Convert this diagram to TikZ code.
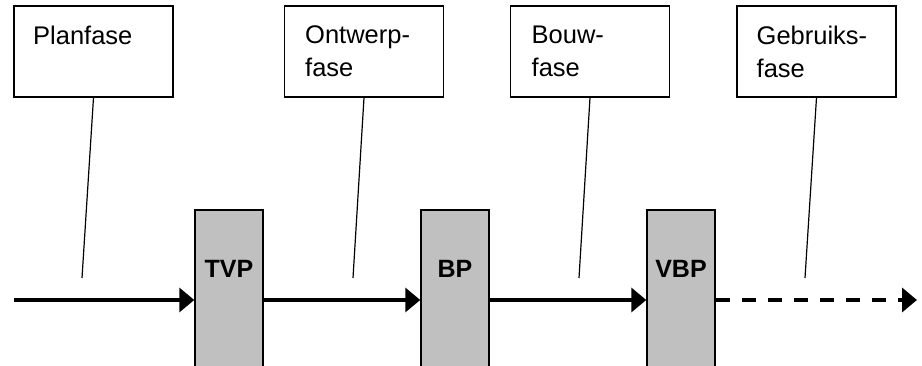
\documentclass[tikz,border=0pt]{standalone}
\usepackage{fontspec}
\setmainfont{Liberation Sans}
\usetikzlibrary{arrows.meta}
\definecolor{gatefill}{HTML}{C0C0C0}
\begin{document}
\begin{tikzpicture}[x=1pt,y=-1pt,
  phase/.style={draw,line width=1.4pt,minimum width=159pt,minimum height=91pt,inner sep=0pt},
  phasetext/.style={anchor=north west,inner sep=0pt,align=left,font=\fontsize{25.5}{33}\selectfont},
  gate/.style={draw,line width=1.4pt,fill=gatefill,minimum width=68pt,minimum height=180pt,inner sep=0pt},
  gatetext/.style={anchor=base,inner sep=0pt,font=\fontsize{25}{30}\selectfont\bfseries},
  leader/.style={line width=1.2pt},
  flow/.style={line width=3.5pt,-{Triangle[length=15pt,width=24pt]}},
]
\useasboundingbox (0,0) rectangle (922,366);
\clip (0,0) rectangle (922,366);

% phase boxes
\node[phase] (p1) at (93.5,51.5) {};
\node[phase] (p2) at (364,51.5) {};
\node[phase] (p3) at (590,51.5) {};
\node[phase] (p4) at (816.5,51.5) {};
\node[phasetext] (t1) at (33,25.7) {Planfase};
\node[phasetext] (t2) at (305,25.7) {Ontwerp-\\fase};
\node[phasetext] (t3) at (531.5,25.7) {Bouw-\\fase};
\node[phasetext] (t4) at (756.5,25.7) {Gebruiks-\\fase};

% gates
\node[gate] (g1) at (229,300) {};
\node[gate] (g2) at (455,300) {};
\node[gate] (g3) at (681,300) {};
\node[gatetext] (l1) at (229,278) {TVP};
\node[gatetext] (l2) at (455,278) {BP};
\node[gatetext] (l3) at (681,278) {VBP};

% flow line
\coordinate (s) at (14,300);
\coordinate (e) at (917,300);
\draw[flow] (s) -- (g1.west);
\draw[flow] (g1.east) -- (g2.west);
\draw[flow] (g2.east) -- (g3.west);
\draw[flow,dash pattern=on 14.5pt off 11.5pt] (g3.east) -- (e);

% leader lines
\coordinate (a1) at (82,278);
\coordinate (a2) at (353,278);
\coordinate (a3) at (579,278);
\coordinate (a4) at (805,278);
\draw[leader] (p1.south) -- (a1);
\draw[leader] (p2.south) -- (a2);
\draw[leader] (p3.south) -- (a3);
\draw[leader] (p4.south) -- (a4);
\end{tikzpicture}
\end{document}
